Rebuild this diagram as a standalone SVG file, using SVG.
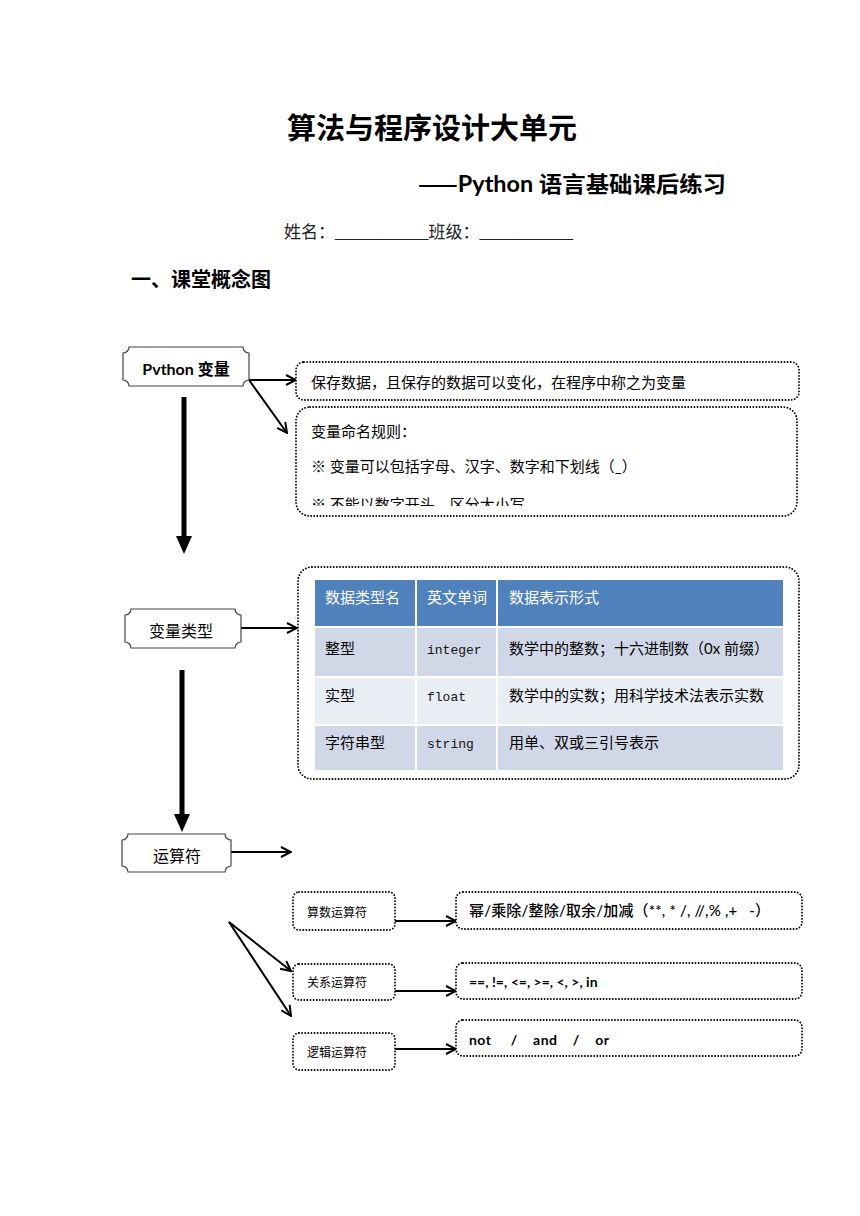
<svg xmlns="http://www.w3.org/2000/svg" width="860" height="1216" viewBox="0 0 860 1216">
<defs>
<style>
.cjk{font-family:"Lato","Noto Sans CJK SC",sans-serif;fill:#000}
.han{font-family:"Noto Sans CJK SC",sans-serif}
.ser{font-family:"Liberation Serif","Noto Sans CJK SC",serif;fill:#222}
.mono{font-family:"Liberation Mono","Noto Sans CJK SC",monospace;fill:#111}
.node{fill:#fff;stroke:#444;stroke-width:1.2}
.dot{fill:#fff;stroke:#000;stroke-width:1.8;stroke-dasharray:0.1 3;stroke-linecap:round}
.thin{fill:none;stroke:#000;stroke-width:2;marker-end:url(#open)}
.thick{fill:none;stroke:#000;stroke-width:5}
</style>
<marker id="open" viewBox="0 0 12 12" refX="11" refY="6" markerWidth="12" markerHeight="12" markerUnits="userSpaceOnUse" orient="auto">
<path d="M1,1 L11,6 L1,11" fill="none" stroke="#000" stroke-width="2"/>
</marker>
<clipPath id="clip2"><rect x="296" y="407" width="501" height="99"/></clipPath>
</defs>
<rect width="860" height="1216" fill="#fff"/>

<g id="header">
<text class="cjk" x="287" y="139" font-size="29" font-weight="bold">算法与程序设计大单元</text>
<text class="cjk" x="418" y="192" font-size="22" font-weight="bold" textLength="308" lengthAdjust="spacingAndGlyphs"><tspan class="han">——</tspan>Python 语言基础课后练习</text>
<text class="ser" x="284" y="238" font-size="17">姓名：___________班级：___________</text>
<text class="cjk" x="131" y="287" font-size="20" font-weight="bold">一、课堂概念图</text>
</g>

<g id="connectors">
<line class="thin" x1="249" y1="380" x2="296" y2="380"/>
<line class="thin" x1="249" y1="380" x2="287" y2="433"/>
<line class="thick" x1="184" y1="397" x2="184" y2="538"/>
<polygon points="176,536 192,536 184,554" fill="#000"/>
<line class="thin" x1="241" y1="628" x2="297" y2="628"/>
<line class="thick" x1="182" y1="670" x2="182" y2="816"/>
<polygon points="174,814 190,814 182,832" fill="#000"/>
<line class="thin" x1="231" y1="852" x2="291" y2="852"/>
<line class="thin" x1="229" y1="922" x2="291" y2="971"/>
<line class="thin" x1="229" y1="922" x2="291" y2="1016"/>
<line class="thin" x1="395" y1="921" x2="456" y2="921"/>
<line class="thin" x1="395" y1="991" x2="456" y2="991"/>
<line class="thin" x1="395" y1="1049" x2="456" y2="1049"/>
</g>

<g id="node-python">
<path class="node" d="M129,347 H243 A6,6 0 0 0 249,353 V380 A6,6 0 0 0 243,386 H129 A6,6 0 0 0 123,380 V353 A6,6 0 0 0 129,347 Z"/>
<text class="cjk" x="186" y="375" font-size="16" font-weight="bold" text-anchor="middle">Pvthon 变量</text>
</g>

<g id="box-def">
<rect class="dot" x="296" y="362" width="503" height="38" rx="8"/>
<text class="cjk" x="311" y="388" font-size="15">保存数据，且保存的数据可以变化，在程序中称之为变量</text>
</g>

<g id="box-rules">
<rect class="dot" x="296" y="407" width="501" height="109" rx="14"/>
<text class="cjk" x="311" y="437" font-size="15">变量命名规则：</text>
<text class="cjk" x="311" y="472" font-size="15">※ 变量可以包括字母、汉字、数字和下划线（_）</text>
<text class="cjk" x="311" y="510" font-size="15" clip-path="url(#clip2)">※ 不能以数字开头，区分大小写.</text>
</g>

<g id="node-type">
<path class="node" d="M131,609 H235 A6,6 0 0 0 241,615 V642 A6,6 0 0 0 235,648 H131 A6,6 0 0 0 125,642 V615 A6,6 0 0 0 131,609 Z"/>
<text class="cjk" x="181" y="637" font-size="16" text-anchor="middle">变量类型</text>
</g>

<g id="box-table">
<rect class="dot" x="298" y="567" width="501" height="212" rx="14"/>
<rect x="315" y="580" width="468" height="46" fill="#4F81BD"/>
<rect x="315" y="628" width="468" height="48" fill="#D0D8E8"/>
<rect x="315" y="678" width="468" height="46" fill="#E9EDF4"/>
<rect x="315" y="726" width="468" height="44" fill="#D0D8E8"/>
<line x1="416" y1="580" x2="416" y2="770" stroke="#fff" stroke-width="2"/>
<line x1="497" y1="580" x2="497" y2="770" stroke="#fff" stroke-width="2"/>
<text class="cjk" x="325" y="603" font-size="15" style="fill:#fff">数据类型名</text>
<text class="cjk" x="427" y="603" font-size="15" style="fill:#fff">英文单词</text>
<text class="cjk" x="509" y="603" font-size="15" style="fill:#fff">数据表示形式</text>
<text class="cjk" x="325" y="654" font-size="15">整型</text>
<text class="mono" x="427" y="654" font-size="13">integer</text>
<text class="cjk" x="509" y="654" font-size="15">数学中的整数；十六进制数（0x 前缀）</text>
<text class="cjk" x="325" y="701" font-size="15">实型</text>
<text class="mono" x="427" y="701" font-size="13">float</text>
<text class="cjk" x="509" y="701" font-size="15">数学中的实数；用科学技术法表示实数</text>
<text class="cjk" x="325" y="748" font-size="15">字符串型</text>
<text class="mono" x="427" y="748" font-size="13">string</text>
<text class="cjk" x="509" y="748" font-size="15">用单、双或三引号表示</text>
</g>

<g id="node-op">
<path class="node" d="M128,834 H225 A6,6 0 0 0 231,840 V866 A6,6 0 0 0 225,872 H128 A6,6 0 0 0 122,866 V840 A6,6 0 0 0 128,834 Z"/>
<text class="cjk" x="177" y="862" font-size="16" text-anchor="middle">运算符</text>
</g>

<g id="node-arith">
<rect class="dot" x="293" y="892" width="102" height="38" rx="6"/>
<text class="cjk" x="307" y="917" font-size="12">算数运算符</text>
</g>
<g id="node-rel">
<rect class="dot" x="293" y="964" width="102" height="36" rx="6"/>
<text class="cjk" x="307" y="987" font-size="12">关系运算符</text>
</g>
<g id="node-logic">
<rect class="dot" x="293" y="1033" width="102" height="37" rx="6"/>
<text class="cjk" x="307" y="1057" font-size="12">逻辑运算符</text>
</g>

<g id="box-arith">
<rect class="dot" x="456" y="892" width="346" height="37" rx="7"/>
<text class="cjk" x="469" y="916" font-size="15" font-weight="500" xml:space="preserve" textLength="301" lengthAdjust="spacing">幂/乘除/整除/取余/加减（**, * /, //,% ,+   -）</text>
</g>
<g id="box-rel">
<rect class="dot" x="456" y="963" width="346" height="36" rx="7"/>
<text class="cjk" x="469" y="987" font-size="14" font-weight="bold" xml:space="preserve">==, !=, &lt;=, &gt;=, &lt;, &gt;, in</text>
</g>
<g id="box-logic">
<rect class="dot" x="456" y="1020" width="346" height="36" rx="7"/>
<text class="cjk" x="469" y="1045" font-size="14" font-weight="bold" xml:space="preserve" textLength="140" lengthAdjust="spacing">not     /    and    /    or</text>
</g>
</svg>
